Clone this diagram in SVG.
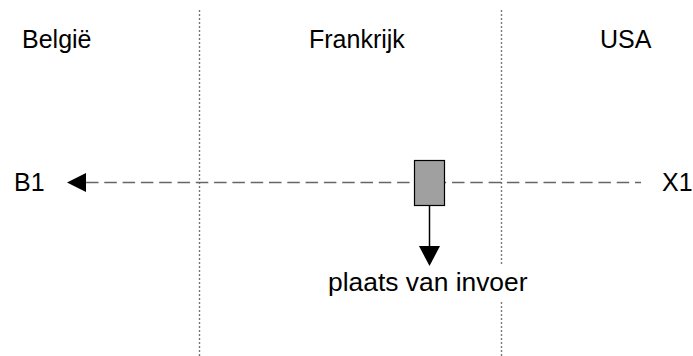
<svg xmlns="http://www.w3.org/2000/svg" width="693" height="356" viewBox="0 0 693 356">
<style>
text{font-family:"Liberation Sans",Arial,sans-serif;font-size:25px;fill:#000}
.div{stroke:#777;stroke-width:1.4;stroke-dasharray:2 2;fill:none}
.dash{stroke:#666;stroke-width:1.5;stroke-dasharray:12.5 5.8;fill:none}
</style>
<rect width="693" height="356" fill="#fff"/>
<g id="dividers">
<line class="div" x1="199.5" y1="10" x2="199.5" y2="356"/>
<line class="div" x1="501.5" y1="10" x2="501.5" y2="356"/>
</g>
<g id="labels">
<text x="22" y="48">België</text>
<text x="309" y="48">Frankrijk</text>
<text x="600" y="48">USA</text>
</g>
<g id="connectors">
<line class="dash" x1="86" y1="182.5" x2="641" y2="182.5"/>
<polygon points="67,182.5 86,173 86,192" fill="#000"/>
<line x1="429.5" y1="206" x2="429.5" y2="247" stroke="#000" stroke-width="1.5"/>
<polygon points="419,246 440,246 429.5,266" fill="#000"/>
</g>
<g id="B1"><text x="14" y="191">B1</text></g>
<g id="X1"><text x="662" y="191">X1</text></g>
<g id="box"><rect x="414.5" y="160.5" width="30" height="45" fill="#a0a0a0" stroke="#000" stroke-width="1.2"/></g>
<g id="plaats">
<rect x="490" y="266" width="20" height="34" fill="#fff"/>
<text x="328" y="291" style="font-size:26.4px">plaats van invoer</text>
</g>
</svg>
